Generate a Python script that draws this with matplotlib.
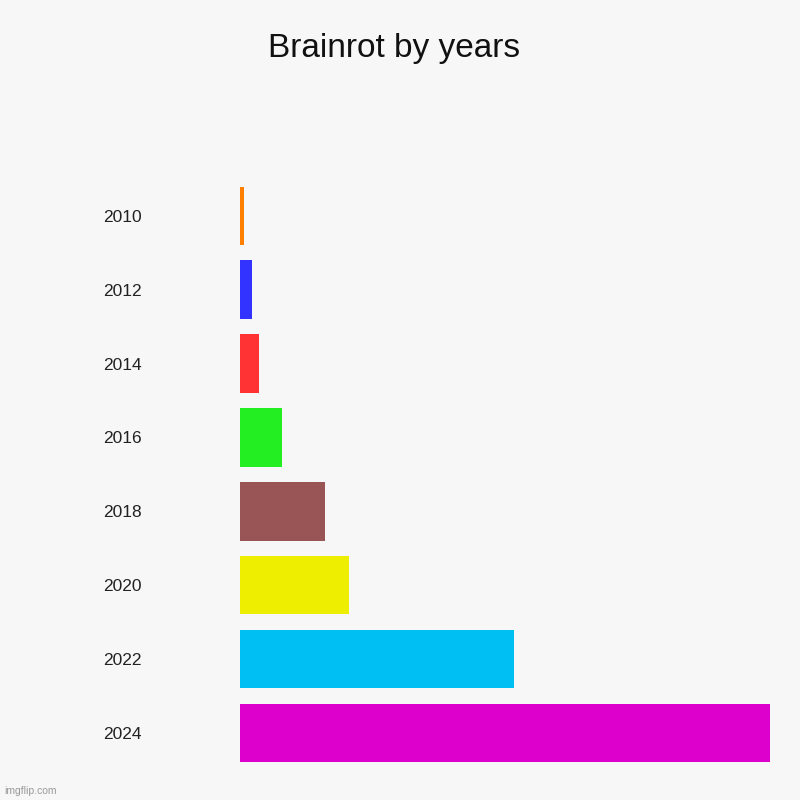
import matplotlib
matplotlib.use("Agg")
import matplotlib.pyplot as plt

years = ["2010", "2012", "2014", "2016", "2018", "2020", "2022", "2024"]
values = [4, 12, 19, 42, 85, 109, 274, 530]
colors = ["#ff8000", "#3333ff", "#ff3333", "#22ee22", "#995555", "#eeee00", "#00bff3", "#dd00cc"]

fig = plt.figure(figsize=(8, 8), dpi=100, facecolor="#f7f7f7")
ax = fig.add_axes([0.3, 0.0375, 0.6625, 0.739])
ax.set_facecolor("#f7f7f7")
y = list(range(len(years)))
ax.barh(y, values, height=0.79, color=colors)
ax.set_ylim(len(years) - 0.5, -0.5)
ax.set_xlim(0, max(values))
ax.set_yticks(y)
ax.set_yticklabels(years, fontsize=12.5, family="Arial" if False else "Liberation Sans", color="#222222")
ax.tick_params(axis="y", length=0, pad=71)
ax.set_xticks([])
for s in ax.spines.values():
    s.set_visible(False)
fig.text(0.4925, 0.94, "Brainrot by years", ha="center", va="center", fontsize=24, family="Liberation Sans", color="#111111")
fig.text(0.005, 0.008, "imgflip.com", fontsize=7.5, color="#999999", family="Liberation Sans")
fig.savefig("out.png", facecolor=fig.get_facecolor())
